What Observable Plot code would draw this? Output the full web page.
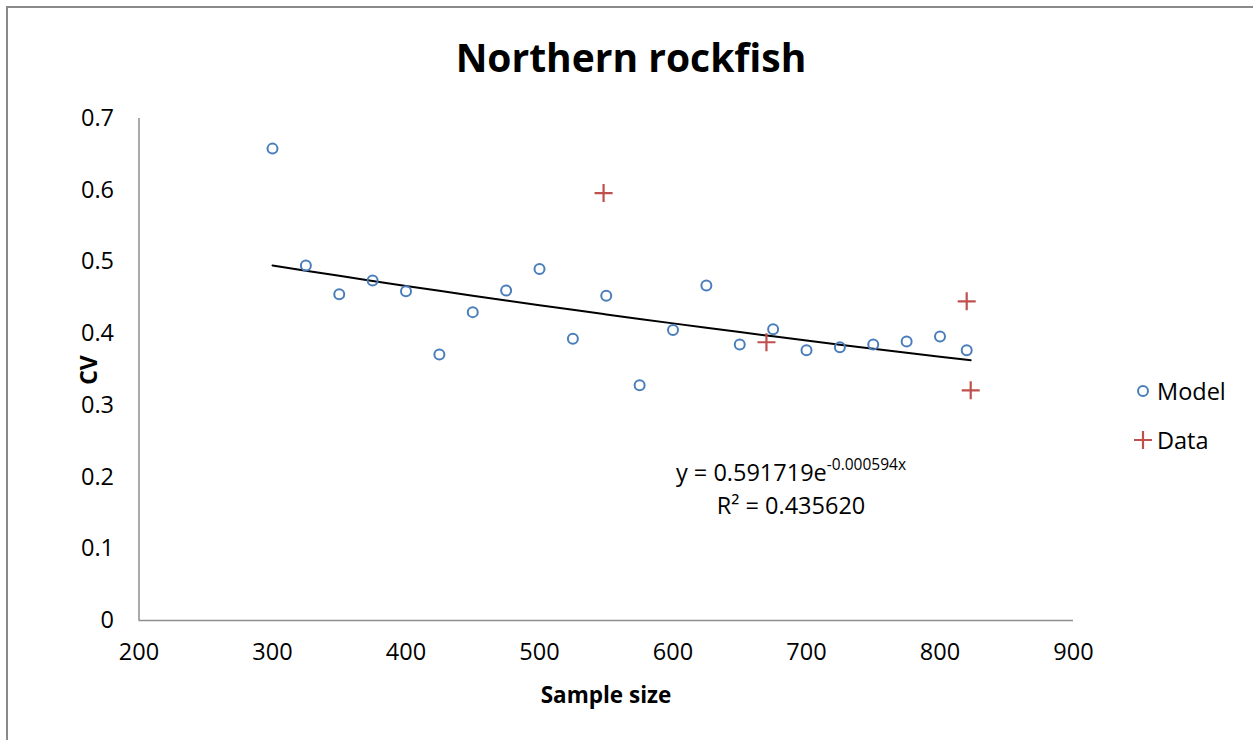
<!DOCTYPE html>
<html>
<head>
<meta charset="utf-8">
<script src="https://cdn.jsdelivr.net/npm/d3@7"></script>
<script src="https://cdn.jsdelivr.net/npm/@observablehq/plot@0.6"></script>
<style>
  html, body { margin: 0; padding: 0; background: #fff; }
  body { width: 1253px; height: 740px; position: relative; overflow: hidden; font-family: "Open Sans", sans-serif; color: #000; }
  #frame { position: absolute; left: 6px; top: 6px; width: 1260px; height: 760px; border-left: 2px solid #8a8a8a; border-top: 2px solid #8a8a8a; }
  #title { position: absolute; left: 0; width: 1262px; top: 30px; text-align: center; font-size: 39px; font-weight: bold; }
  #chart { position: absolute; left: 0; top: 90px; }
  #ylab { position: absolute; left: 88px; top: 370px; transform: translate(-50%, -50%) rotate(-90deg); font-size: 23px; font-weight: bold; }
  #xlab { position: absolute; left: 606px; top: 694px; transform: translate(-50%, -50%); font-size: 22.5px; font-weight: bold; white-space: nowrap; }
  #eq { position: absolute; left: 791px; top: 450px; transform: translateX(-50%); font-size: 23.5px; text-align: center; line-height: 33px; white-space: nowrap; }
  #eq sup { font-size: 15.5px; position: relative; top: -2px; }
  .leg { position: absolute; left: 1133px; font-size: 23.5px; display: flex; align-items: center; white-space: nowrap; }
  .leg svg { margin-right: 4px; }
</style>
</head>
<body>
<div id="frame"></div>
<div id="title">Northern rockfish</div>
<div id="chart"></div>
<div id="ylab">CV</div>
<div id="xlab">Sample size</div>
<div id="eq">y = 0.591719e<sup>-0.000594x</sup><br>R² = 0.435620</div>
<div class="leg" style="top:375px"><svg width="20" height="20"><circle cx="10" cy="10" r="5" fill="none" stroke="#4a7ebb" stroke-width="2"/></svg>Model</div>
<div class="leg" style="top:424px"><svg width="20" height="20"><path d="M1,10H19M10,1V19" stroke="#c0504d" stroke-width="2.2"/></svg>Data</div>
<script>
const modelX = [300, 325, 350, 375, 400, 425, 450, 475, 500, 525, 550, 575, 600, 625, 650, 675, 700, 725, 750, 775, 800, 820];
const modelY = [0.658, 0.495, 0.455, 0.474, 0.459, 0.371, 0.430, 0.460, 0.490, 0.393, 0.453, 0.328, 0.405, 0.467, 0.385, 0.406, 0.377, 0.381, 0.385, 0.389, 0.396, 0.377];
const dataX = [548, 670, 820, 823];
const dataY = [0.596, 0.388, 0.445, 0.321];
const trendA = 0.591719;
const trendB = -0.000594;
const xTicks = [200, 300, 400, 500, 600, 700, 800, 900];
const yTicks = [0, 0.1, 0.2, 0.3, 0.4, 0.5, 0.6, 0.7];

const model = modelX.map((x, i) => ({x, y: modelY[i]}));
const data = dataX.map((x, i) => ({x, y: dataY[i]}));
const allX = modelX.concat(dataX);
const xmin = d3.min(allX), xmax = d3.max(allX);
const trendXs = Array.from(new Set(allX.concat([xmin, xmax]))).sort((a, b) => a - b);
const trend = trendXs.map(x => ({x, y: trendA * Math.exp(trendB * x)}));

const plusSymbol = {
  draw(ctx, size) {
    const h = 9;
    ctx.moveTo(-h, 0); ctx.lineTo(h, 0);
    ctx.moveTo(0, -h); ctx.lineTo(0, h);
  }
};

const chart = Plot.plot({
  width: 1253,
  height: 650,
  marginLeft: 138.5,
  marginRight: 180,
  marginTop: 28,
  marginBottom: 120,
  style: { fontFamily: "'Open Sans', sans-serif", fontSize: "23.5px", color: "#000", background: "transparent", overflow: "visible" },
  x: { domain: [200, 900] },
  y: { domain: [0, 0.7] },
  marks: [
    Plot.axisX({ ticks: xTicks, tickSize: 0, tickPadding: 23, tickFormat: d => String(d), label: null, fill: "#000" }),
    Plot.axisY({ ticks: yTicks, tickSize: 0, tickPadding: 25, tickFormat: d => d === 0 ? "0" : d.toFixed(1), label: null, fill: "#000" }),
    Plot.ruleX([200], { stroke: "#8e8e8e", strokeWidth: 1.5 }),
    Plot.ruleY([0], { stroke: "#8e8e8e", strokeWidth: 1.5 }),
    Plot.line(trend, { x: "x", y: "y", stroke: "#000", strokeWidth: 2 }),
    Plot.dot(model, { x: "x", y: "y", r: 5, stroke: "#4a7ebb", strokeWidth: 2, fill: "none" }),
    Plot.dot(data, { x: "x", y: "y", symbol: plusSymbol, r: 5, stroke: "#c0504d", strokeWidth: 2.2, fill: "none" })
  ]
});
document.getElementById("chart").appendChild(chart);
</script>
</body>
</html>
